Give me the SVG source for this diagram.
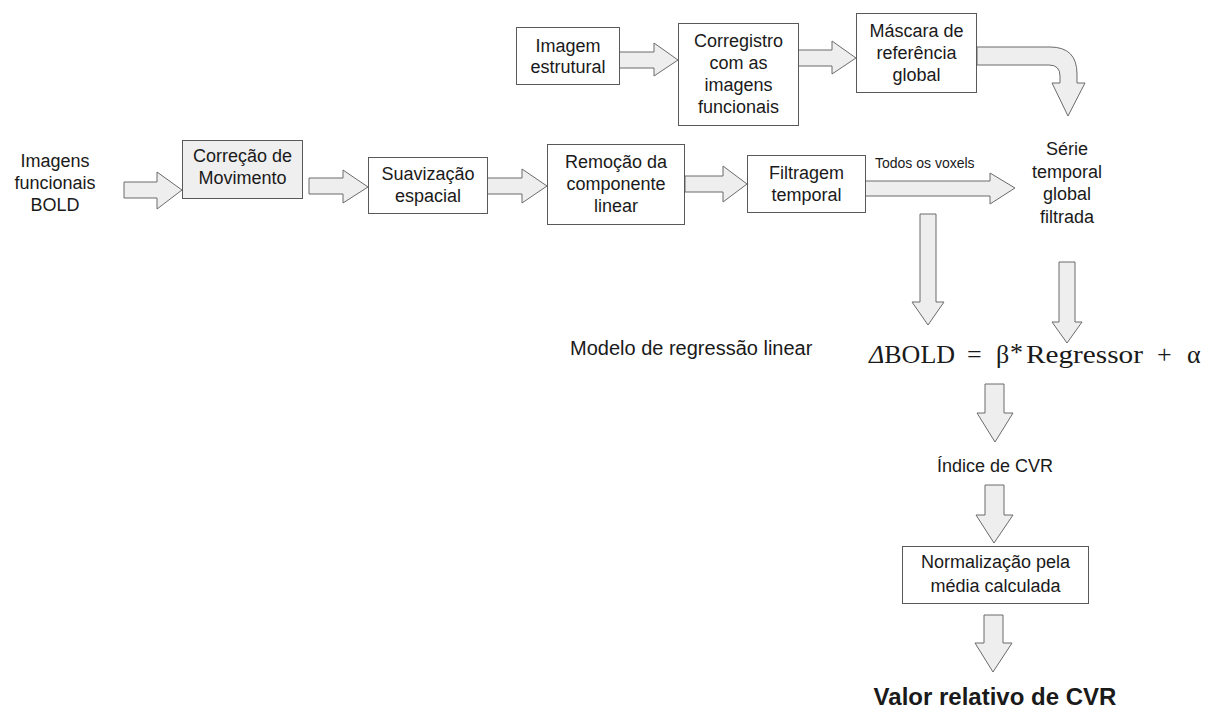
<svg xmlns="http://www.w3.org/2000/svg" width="1210" height="713" viewBox="0 0 1210 713">
<style>
.box{fill:#ffffff;stroke:#595959;stroke-width:1}
.gbox{fill:#efefef;stroke:#595959;stroke-width:1}
.arr{fill:#eeeeee;stroke:#6b6b6b;stroke-width:1;stroke-linejoin:miter}
.t{font-family:"Liberation Sans",Arial,sans-serif;font-size:18px;fill:#1a1a1a;text-anchor:middle}
.s{font-family:"Liberation Sans",Arial,sans-serif;font-size:14px;fill:#1a1a1a}
.eq{font-family:"Liberation Serif","Times New Roman",serif;font-size:26px;fill:#1a1a1a}
</style>
<rect width="1210" height="713" fill="#ffffff"/>
<g id="connectors">
<polygon class="arr" points="619,52 654,52 654,43 678,60 654,76 654,68 619,68"/>
<polygon class="arr" points="798,50 832,50 832,41 856,58 832,74 832,66 798,66"/>
<path class="arr" d="M977,47 L1050,47 Q1077,47 1077,74 L1077,83 L1085,83 L1068,116 L1052,83 L1060,83 L1060,76 Q1060,65 1049,65 L977,65 Z"/>
<polygon class="arr" points="124,182 157,182 157,172 182,190 157,209 157,198 124,198"/>
<polygon class="arr" points="309,178 343,178 343,170 368,187 343,203 343,194 309,194"/>
<polygon class="arr" points="487,178 522,178 522,169 547,186 522,203 522,194 487,194"/>
<polygon class="arr" points="685,176 723,176 723,166 747,184 723,202 723,192 685,192"/>
<polygon class="arr" points="865,181 990,181 990,173 1015,188 990,204 990,196 865,196"/>
<polygon class="arr" points="920,214 936,214 936,302 944,302 928,325 912,302 920,302"/>
<polygon class="arr" points="1059,262 1075,262 1075,322 1082,322 1067,343 1052,322 1059,322"/>
<polygon class="arr" points="985,384 1004,384 1004,413 1013,413 995,442 977,413 985,413"/>
<polygon class="arr" points="985,485 1004,485 1004,515 1013,515 994,543 976,515 985,515"/>
<polygon class="arr" points="984,615 1003,615 1003,643 1012,643 993,672 975,643 984,643"/>
<text class="s" x="875" y="168">Todos os voxels</text>
</g>
<g id="n_imagem_estrutural">
<rect class="box" x="516.5" y="27.5" width="103" height="57"/>
<text class="t" x="568" y="52">Imagem</text>
<text class="t" x="568" y="73">estrutural</text>
</g>
<g id="n_corregistro">
<rect class="box" x="678.5" y="23.5" width="120" height="102"/>
<text class="t" x="738.5" y="47">Corregistro</text>
<text class="t" x="738.5" y="69">com as</text>
<text class="t" x="738.5" y="91">imagens</text>
<text class="t" x="738.5" y="113">funcionais</text>
</g>
<g id="n_mascara">
<rect class="box" x="856.5" y="13.5" width="120" height="79"/>
<text class="t" x="916.5" y="37">Máscara de</text>
<text class="t" x="916.5" y="59">referência</text>
<text class="t" x="916.5" y="81">global</text>
</g>
<g id="n_imagens_bold">
<text class="t" x="55" y="167">Imagens</text>
<text class="t" x="55" y="189">funcionais</text>
<text class="t" x="55" y="211">BOLD</text>
</g>
<g id="n_correcao">
<rect class="gbox" x="182.5" y="140.5" width="120" height="58"/>
<text class="t" x="242.5" y="162">Correção de</text>
<text class="t" x="242.5" y="184">Movimento</text>
</g>
<g id="n_suavizacao">
<rect class="box" x="368.5" y="157.5" width="119" height="56"/>
<text class="t" x="428" y="180">Suavização</text>
<text class="t" x="428" y="202">espacial</text>
</g>
<g id="n_remocao">
<rect class="box" x="547.5" y="144.5" width="137" height="80"/>
<text class="t" x="616" y="168">Remoção da</text>
<text class="t" x="616" y="190">componente</text>
<text class="t" x="616" y="212">linear</text>
</g>
<g id="n_filtragem">
<rect class="box" x="747.5" y="155.5" width="118" height="57"/>
<text class="t" x="806.5" y="179">Filtragem</text>
<text class="t" x="806.5" y="201">temporal</text>
</g>
<g id="n_serie">
<text class="t" x="1067" y="155">Série</text>
<text class="t" x="1067" y="177.5">temporal</text>
<text class="t" x="1067" y="200">global</text>
<text class="t" x="1067" y="222.5">filtrada</text>
</g>
<g id="n_modelo">
<text class="t" x="570" y="355" style="text-anchor:start;font-size:20px">Modelo de regressão linear</text>
</g>
<g id="n_equacao">
<text class="eq" y="363"><tspan x="869" font-style="italic">Δ</tspan><tspan>BOLD</tspan><tspan x="967">=</tspan><tspan x="996">β</tspan><tspan x="1010" dy="-2">*</tspan><tspan x="1026" dy="2" textLength="117" lengthAdjust="spacingAndGlyphs">Regressor</tspan><tspan x="1157">+</tspan><tspan x="1187">α</tspan></text>
</g>
<g id="n_indice">
<text class="t" x="995" y="472">Índice de CVR</text>
</g>
<g id="n_normalizacao">
<rect class="box" x="902.5" y="546.5" width="186" height="57"/>
<text class="t" x="995.5" y="568">Normalização pela</text>
<text class="t" x="995.5" y="592">média calculada</text>
</g>
<g id="n_valor">
<text class="t" x="995" y="705" style="font-size:24px;font-weight:bold">Valor relativo de CVR</text>
</g>
</svg>
